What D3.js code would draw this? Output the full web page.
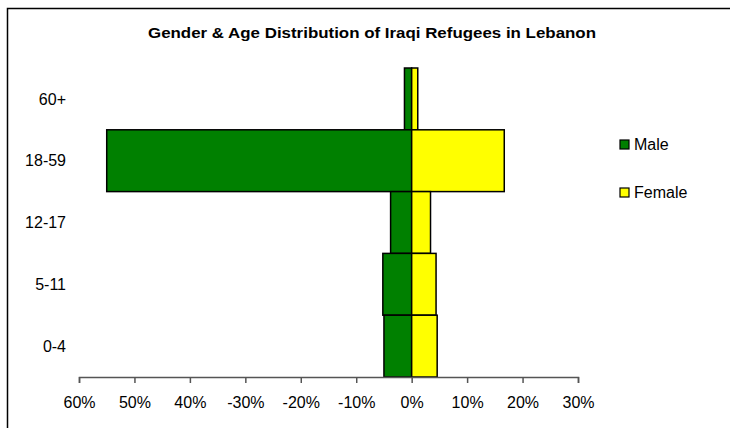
<!DOCTYPE html>
<html>
<head>
<meta charset="utf-8">
<script src="https://cdn.jsdelivr.net/npm/d3@7"></script>
<style>
  body { margin: 0; background: #fff; }
  svg text { font-family: "Liberation Sans", Arial, sans-serif; fill: #000; }
</style>
</head>
<body>
<div id="chart"></div>
<script>
// Age groups, top to bottom
const ageGroups = ['60+', '18-59', '12-17', '5-11', '0-4'];
// Share of refugees (%), male drawn to the left
const maleValues = [1.3, 55.0, 3.8, 5.2, 5.0];
const femaleValues = [1.1, 16.7, 3.4, 4.4, 4.6];
// Axis ticks and their labels as printed
const tickValues = [-60, -50, -40, -30, -20, -10, 0, 10, 20, 30];
const tickLabels = ['60%', '50%', '40%', '-30%', '-20%', '-10%', '0%', '10%', '20%', '30%'];
const seriesNames = ['Male', 'Female'];
const seriesColors = ['#008000', '#FFFF00'];

const width = 730, height = 428;
const plot = { left: 79, right: 578, top: 68, bottom: 377 };

const svg = d3.select('#chart').append('svg')
    .attr('width', width)
    .attr('height', height);

// Chart frame
svg.append('rect')
    .attr('x', 7.5).attr('y', 8.5)
    .attr('width', 740).attr('height', 440)
    .attr('fill', 'none')
    .attr('stroke', '#000')
    .attr('stroke-width', 1.5);

// Title
svg.append('text')
    .attr('x', 372)
    .attr('y', 38)
    .attr('text-anchor', 'middle')
    .attr('textLength', 448)
    .attr('lengthAdjust', 'spacingAndGlyphs')
    .style('font-size', '15px')
    .style('font-weight', 'bold')
    .text('Gender & Age Distribution of Iraqi Refugees in Lebanon');

// Scales
const xScale = d3.scaleLinear()
    .domain([-60, 30])
    .range([plot.left, plot.right]);

const yScale = d3.scaleBand()
    .domain(ageGroups)
    .range([plot.top, plot.bottom])
    .padding(0);

// Bars
const rows = ageGroups.map((g, i) => ({ group: g, male: maleValues[i], female: femaleValues[i] }));

const bars = svg.append('g').attr('class', 'bars');

bars.selectAll('.male')
    .data(rows)
    .join('rect')
    .attr('class', 'male')
    .attr('x', d => xScale(-d.male))
    .attr('y', d => yScale(d.group))
    .attr('width', d => xScale(0) - xScale(-d.male))
    .attr('height', yScale.bandwidth())
    .attr('fill', seriesColors[0])
    .attr('stroke', '#000')
    .attr('stroke-width', 1.5);

bars.selectAll('.female')
    .data(rows)
    .join('rect')
    .attr('class', 'female')
    .attr('x', xScale(0))
    .attr('y', d => yScale(d.group))
    .attr('width', d => xScale(d.female) - xScale(0))
    .attr('height', yScale.bandwidth())
    .attr('fill', seriesColors[1])
    .attr('stroke', '#000')
    .attr('stroke-width', 1.5);

// X axis
const xAxis = d3.axisBottom(xScale)
    .tickValues(tickValues)
    .tickFormat((d, i) => tickLabels[i])
    .tickSize(6)
    .tickPadding(14);

const xg = svg.append('g')
    .attr('transform', `translate(0,${plot.bottom})`)
    .call(xAxis);

xg.select('.domain').attr('stroke', '#555').attr('stroke-width', 1.5);
xg.selectAll('.tick line').attr('stroke', '#555').attr('stroke-width', 1.5);
xg.selectAll('.tick text')
    .attr('fill', '#000')
    .style('font-size', '16px')
    .style('font-family', '"Liberation Sans", Arial, sans-serif');

// Y category labels
svg.append('g')
    .selectAll('text')
    .data(ageGroups)
    .join('text')
    .attr('x', 66)
    .attr('y', d => yScale(d) + yScale.bandwidth() / 2)
    .attr('dy', '0.35em')
    .attr('text-anchor', 'end')
    .style('font-size', '16px')
    .text(d => d);

// Legend
const legend = svg.append('g')
    .attr('transform', 'translate(620,140)');

const items = legend.selectAll('g')
    .data(seriesNames)
    .join('g')
    .attr('transform', (d, i) => `translate(0,${i * 48})`);

items.append('rect')
    .attr('width', 9)
    .attr('height', 9)
    .attr('fill', (d, i) => seriesColors[i])
    .attr('stroke', '#000')
    .attr('stroke-width', 1.2);

items.append('text')
    .attr('x', 14)
    .attr('y', 10)
    .style('font-size', '16px')
    .text(d => d);
</script>
</body>
</html>
